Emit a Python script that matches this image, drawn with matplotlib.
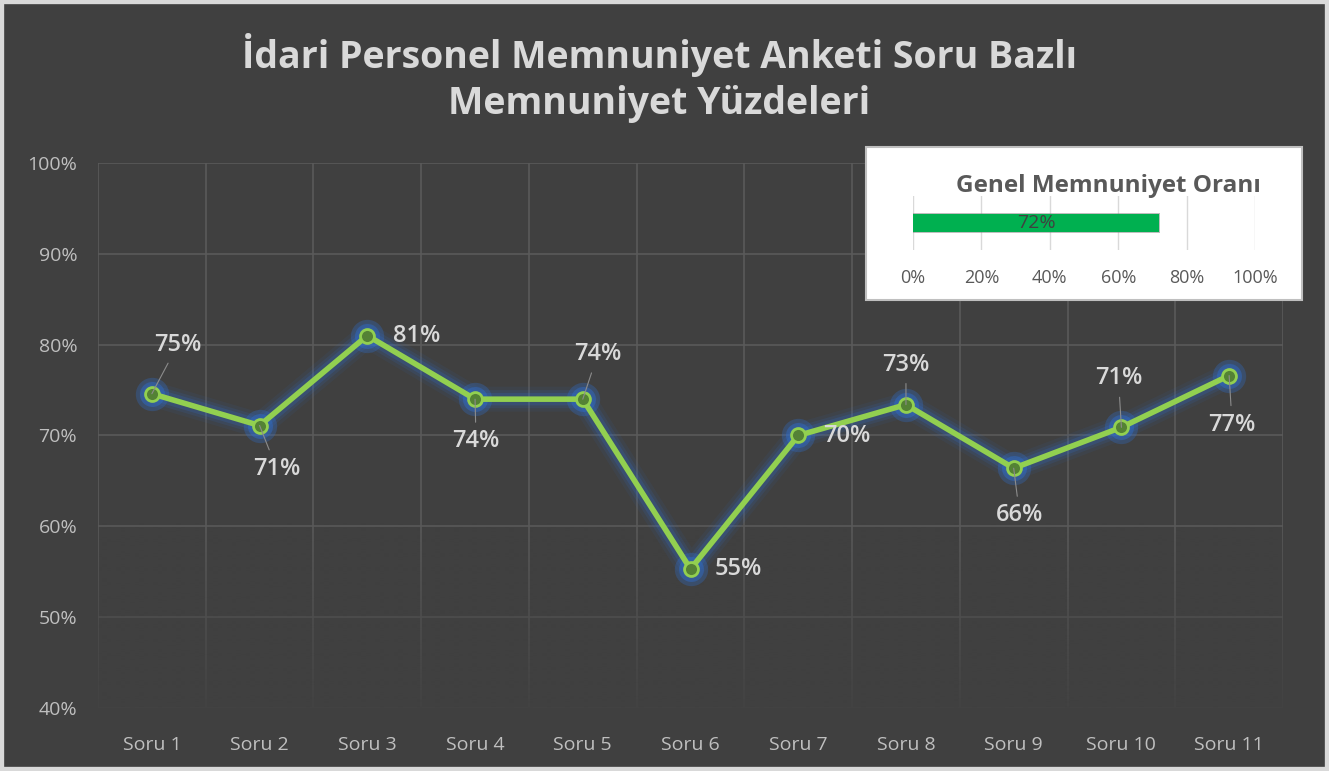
import matplotlib.pyplot as plt
import numpy as np
from matplotlib.patches import Rectangle
from matplotlib.ticker import PercentFormatter

plt.rcParams['font.family'] = ['Open Sans', 'DejaVu Sans']

questions = ['Soru 1', 'Soru 2', 'Soru 3', 'Soru 4', 'Soru 5', 'Soru 6',
             'Soru 7', 'Soru 8', 'Soru 9', 'Soru 10', 'Soru 11']
satisfaction = [74.6, 71.1, 81.0, 74.0, 74.0, 55.3, 70.0, 73.4, 66.4, 70.9, 76.6]
overall = 72

# label offsets in pixels (dx, dy with y up) and whether a leader line is drawn
label_offsets = [(26, 49), (17, -43), (49, 0), (1, -42), (15, 45), (48, 0),
                 (49, -1), (0, 40), (6, -47), (-3, 49), (3, -49)]
leaders = [True, True, False, True, True, False, False, True, True, True, True]

bg = '#404040'
fig = plt.figure(figsize=(13.29, 7.71), dpi=100, facecolor=bg)
fig.patches.append(Rectangle((0, 0), 1, 1, transform=fig.transFigure,
                             fill=False, edgecolor='#d9d9d9', linewidth=6, zorder=10))

ax = fig.add_axes([98 / 1329, 1 - 708 / 771, 1185 / 1329, 545 / 771])
ax.set_facecolor(bg)
x = list(range(len(questions)))
n = len(questions)

# fade the gridlines towards the bottom (row 0 = top of the band)
fade = np.zeros((100, 1, 4))
fade[:, 0, :3] = 0x40 / 255
fade[:, 0, 3] = np.clip(np.linspace(-0.2, 0.9, 100), 0, 1)
ax.imshow(fade, extent=[-0.5, n - 0.5, 40, 65], origin='upper',
          aspect='auto', zorder=1, interpolation='bilinear')

# glow
for lw, a in [(18, 0.07), (13, 0.12), (9, 0.2)]:
    ax.plot(x, satisfaction, color='#2f6fd0', lw=lw, alpha=a,
            solid_capstyle='round', solid_joinstyle='round', zorder=2)
ax.plot(x, satisfaction, 'o', ms=24, color='#2f6fd0', alpha=0.3, mec='none', zorder=2)
ax.plot(x, satisfaction, 'o', ms=18, color='#2f6fd0', alpha=0.4, mec='none', zorder=2)
ax.plot(x, satisfaction, color='#92d050', lw=4, marker='o', ms=10,
        mfc='#548235', mec='#92d050', mew=2, zorder=3)

for xi, yi, (dx, dy), lead in zip(x, satisfaction, label_offsets, leaders):
    ax.annotate(f'{round(yi)}%', (xi, yi), xytext=(dx * 0.72, dy * 0.72),
                textcoords='offset points', ha='center', va='center',
                fontsize=17, color='#d9d9d9', fontweight='semibold',
                arrowprops=dict(arrowstyle='-', color='#8c8c8c', lw=0.8,
                                shrinkA=3, shrinkB=0) if lead else None,
                zorder=4)

ax.set_xlim(-0.5, n - 0.5)
ax.set_ylim(40, 100)
ax.set_yticks(range(40, 101, 10))
ax.yaxis.set_major_formatter(PercentFormatter(decimals=0))
ax.set_xticks(x)
ax.set_xticklabels(questions)
ax.set_xticks([i - 0.5 for i in range(n + 1)], minor=True)
ax.tick_params(axis='both', which='both', length=0, colors='#bfbfbf', labelsize=14)
ax.tick_params(axis='x', pad=20)
ax.tick_params(axis='y', pad=15)
ax.grid(axis='y', which='major', color='#5a5a5a', lw=1.2)
ax.grid(axis='x', which='minor', color='#5a5a5a', lw=1.2)
for s in ax.spines.values():
    s.set_visible(False)
ax.set_axisbelow(True)

fig.text(659 / 1329, 1 - 78 / 771,
         'İdari Personel Memnuniyet Anketi Soru Bazlı\nMemnuniyet Yüzdeleri',
         ha='center', va='center', fontsize=27, fontweight='bold',
         color='#d9d9d9', linespacing=1.3)

# inset box
fig.patches.append(Rectangle((866 / 1329, 1 - 300 / 771), 436 / 1329, 153 / 771,
                             transform=fig.transFigure, facecolor='white',
                             edgecolor='#bfbfbf', linewidth=1.5, zorder=5))
fig.text(1108 / 1329, 1 - 186 / 771, 'Genel Memnuniyet Oranı', ha='center',
         va='center', fontsize=17.5, fontweight='bold', color='#595959', zorder=6)
ins = fig.add_axes([913 / 1329, 1 - 250 / 771, 342 / 1329, 54 / 771], zorder=6)
ins.patch.set_alpha(0)
ins.barh([0], [overall + 0.6], left=-0.3, height=0.4, color='#7f7f7f', alpha=0.5)
ins.barh([0], [overall], height=0.38, color='#00b050')
ins.text(overall / 2, 0, f'{overall}%', ha='center', va='center',
         fontsize=14, color='#404040')
ins.set_xlim(0, 100)
ins.set_ylim(-0.55, 0.55)
ins.set_xticks(range(0, 101, 20))
ins.xaxis.set_major_formatter(PercentFormatter(decimals=0))
ins.set_yticks([])
ins.tick_params(axis='x', length=0, colors='#595959', labelsize=13, pad=14)
ins.grid(axis='x', color='#d9d9d9', lw=1)
ins.set_axisbelow(True)
for s in ins.spines.values():
    s.set_visible(False)

fig.savefig('out.png', dpi=100, facecolor=bg)
